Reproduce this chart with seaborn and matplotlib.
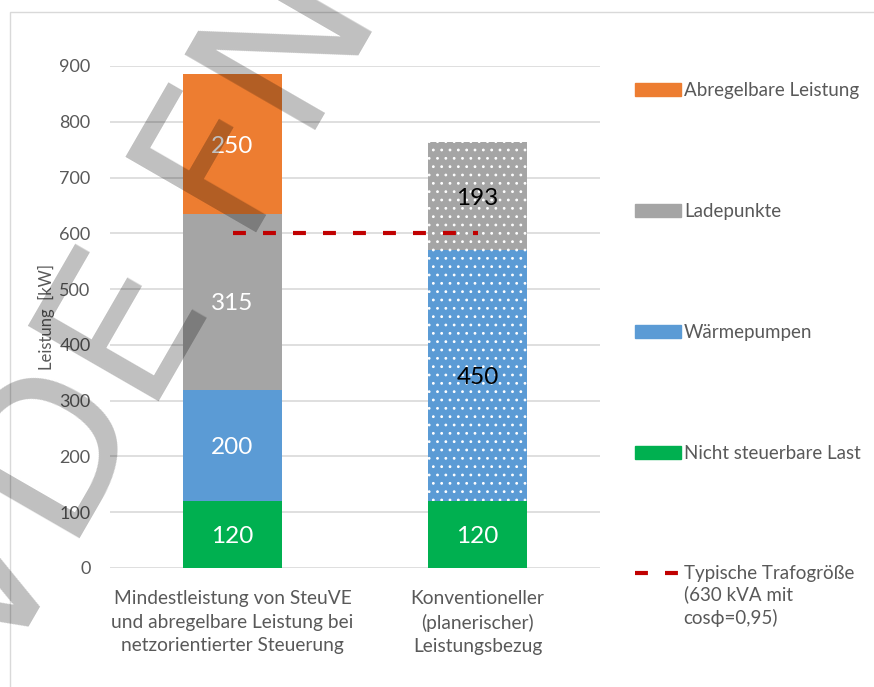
import matplotlib
matplotlib.use("Agg")
import matplotlib.pyplot as plt
import matplotlib.patches as mpatches
import matplotlib.transforms as mtransforms
from matplotlib.lines import Line2D
import seaborn as sns
import numpy as np

# data
categories = [
    "Mindestleistung von SteuVE\nund abregelbare Leistung bei\nnetzorientierter Steuerung",
    "Konventioneller\n(planerischer)\nLeistungsbezug",
]
layer_names = ["Nicht steuerbare Last", "Wärmepumpen", "Ladepunkte", "Abregelbare Leistung"]
nicht_steuerbar = [120, 120]
waermepumpen = [200, 450]
ladepunkte = [315, 193]
abregelbar = [250, 0]
trafo_value = 600
trafo_label = "Typische Trafogröße"
trafo_note = "(630 kVA mit\ncosϕ=0,95)"
y_ticks = [0, 100, 200, 300, 400, 500, 600, 700, 800, 900]

colors = ["#00B050", "#5B9BD5", "#A5A5A5", "#ED7D31"]
label_colors = [["white", "white"], ["white", "black"], ["white", "black"], ["white", "black"]]
trafo_dash = (3.1, 4.1)

sns.set_style("white")
plt.rcParams["font.family"] = ["Lato", "DejaVu Sans"]
plt.rcParams["hatch.linewidth"] = 0.8

fig = plt.figure(figsize=(8.74, 6.87), dpi=100)
ax = fig.add_axes([110 / 874, 1 - 568 / 687, 490 / 874, 502 / 687])

# light frame around the chart
fig.patches.append(mpatches.Rectangle((10 / 874, -0.1), 1.2, 1 - 12 / 687 + 0.1,
                                      transform=fig.transFigure, fill=False,
                                      edgecolor="#D9D9D9", linewidth=1.0, zorder=0))

layers = [nicht_steuerbar, waermepumpen, ladepunkte, abregelbar]
bottom = np.zeros(len(categories))
for i, vals in enumerate(layers):
    sns.barplot(x=categories, y=vals, bottom=bottom, color=colors[i], saturation=1,
                width=0.404, ax=ax, linewidth=0, zorder=3)
    cont = ax.containers[-1]
    # the conventional bar for Wärmepumpen/Ladepunkte is dotted
    if i in (1, 2):
        p = cont.patches[1]
        p.set_hatch("..")
        p.set_edgecolor("white")
        p.set_linewidth(0)
    labels = [str(v) if v > 0 else "" for v in vals]
    texts = ax.bar_label(cont, labels=labels, label_type="center", fontsize=17.5, zorder=4)
    for t, c in zip(texts, label_colors[i]):
        t.set_color(c)
        t.set_va("center_baseline")
    bottom = bottom + np.array(vals)

sns.lineplot(x=[0, 1], y=[trafo_value, trafo_value], color="#C00000", linewidth=3,
             ax=ax, zorder=5)
ax.lines[-1].set_dashes(trafo_dash)
ax.lines[-1].set_dash_capstyle("butt")

ax.set_xlim(-0.5, 1.5)
ax.set_ylim(0, 900)
ax.set_yticks(y_ticks)
ax.yaxis.grid(True, color="#D9D9D9", linewidth=1.2, zorder=0)
ax.set_axisbelow(True)
sns.despine(ax=ax, left=True, bottom=True)
ax.tick_params(axis="both", length=0, colors="#595959")
ax.tick_params(axis="y", pad=14, labelsize=13)
ax.tick_params(axis="x", pad=16, labelsize=13.8)
for t in ax.get_xticklabels():
    t.set_linespacing(1.45)
ax.set_ylabel("Leistung  [kW]", fontsize=12, color="#595959")
ax.yaxis.set_label_coords(-0.112, 0.5)
ax.set_xlabel("")

handles = [
    mpatches.Patch(color=colors[3], label=layer_names[3]),
    mpatches.Patch(color=colors[2], label=layer_names[2]),
    mpatches.Patch(color=colors[1], label=layer_names[1]),
    mpatches.Patch(color=colors[0], label=layer_names[0]),
    Line2D([0], [0], color="#C00000", linewidth=3, dashes=trafo_dash,
           dash_capstyle="butt", label=trafo_label),
]
leg = fig.legend(handles=handles, loc="upper left", bbox_to_anchor=(635 / 874, 1 - 82 / 687),
                 frameon=False, fontsize=13.5, handlelength=2.45, handletextpad=0.15,
                 labelspacing=5.54, borderpad=0, borderaxespad=0)
for t in leg.get_texts():
    t.set_color("#595959")

# continuation of the last legend label
fig.canvas.draw()
bb = leg.get_texts()[-1].get_window_extent()
fig.text(bb.x0, bb.y0 - 3, trafo_note, transform=mtransforms.IdentityTransform(),
         ha="left", va="top", fontsize=13.5, color="#595959", linespacing=1.4)

# watermark
fig.text(180 / 874, 1 - 250 / 687, "VDE FNN", fontsize=148, rotation=60,
         rotation_mode="anchor", ha="center", va="center", color="black", alpha=0.25,
         family="DejaVu Sans", zorder=10)

fig.savefig("out.png", dpi=100)
